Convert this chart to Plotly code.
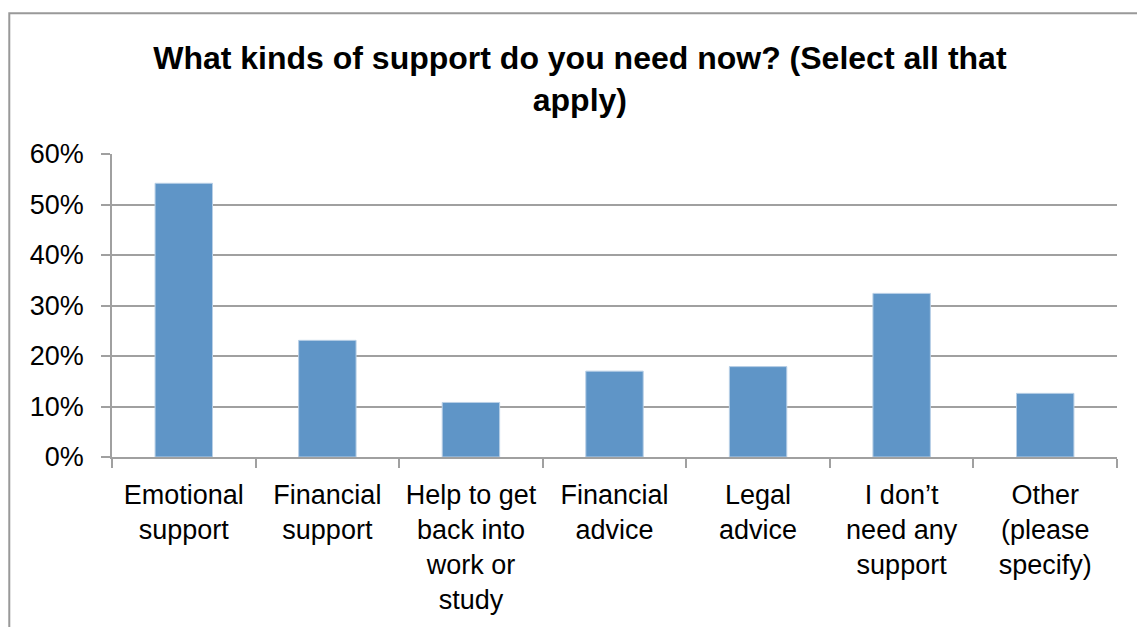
import plotly.graph_objects as go

categories = [
    "Emotional<br>support",
    "Financial<br>support",
    "Help to get<br>back into<br>work or<br>study",
    "Financial<br>advice",
    "Legal<br>advice",
    "I don\u2019t<br>need any<br>support",
    "Other<br>(please<br>specify)",
]
shares = [0.542, 0.231, 0.108, 0.170, 0.179, 0.324, 0.126]
y_ticks = [0, 0.1, 0.2, 0.3, 0.4, 0.5, 0.6]

FONT = "Liberation Sans, Arial, sans-serif"
GRID = "#a0a0a0"

fig = go.Figure(
    go.Bar(
        x=categories,
        y=shares,
        marker=dict(color="#5f95c7", line=dict(color="#b8cfe6", width=1)),
    )
)

fig.update_layout(
    width=1137,
    height=627,
    margin=dict(l=112, r=20, t=154, b=170),
    paper_bgcolor="white",
    plot_bgcolor="white",
    bargap=0.6,
    showlegend=False,
    font=dict(family=FONT, color="black", size=27),
    title=dict(
        text="<b>What kinds of support do you need now? (Select all that<br>apply)</b>",
        font=dict(family=FONT, size=32, color="black"),
        x=0.51,
        xref="container",
        xanchor="center",
        y=0.89,
        yref="container",
        yanchor="top",
    ),
    shapes=[
        dict(
            type="rect",
            xref="paper",
            yref="paper",
            x0=-0.1022,
            y0=-0.62,
            x1=1.04,
            y1=1.4644,
            line=dict(color="#999999", width=2),
            fillcolor="rgba(0,0,0,0)",
            layer="below",
        )
    ],
)

fig.update_xaxes(
    showline=True,
    linecolor=GRID,
    linewidth=1.5,
    ticks="outside",
    tickson="boundaries",
    ticklen=9,
    tickcolor=GRID,
    tickwidth=1.5,
    showgrid=False,
    tickfont=dict(family=FONT, size=27, color="black"),
    ticklabelstandoff=13,
)

fig.update_yaxes(
    range=[0, 0.6],
    tickvals=y_ticks,
    tickformat=".0%",
    showline=True,
    linecolor=GRID,
    linewidth=1.5,
    ticks="outside",
    ticklen=9,
    tickcolor=GRID,
    tickwidth=1.5,
    showgrid=True,
    gridcolor=GRID,
    gridwidth=1.5,
    zeroline=False,
    tickfont=dict(family=FONT, size=27, color="black"),
    ticklabelstandoff=12,
)

fig.write_html("out.html")
